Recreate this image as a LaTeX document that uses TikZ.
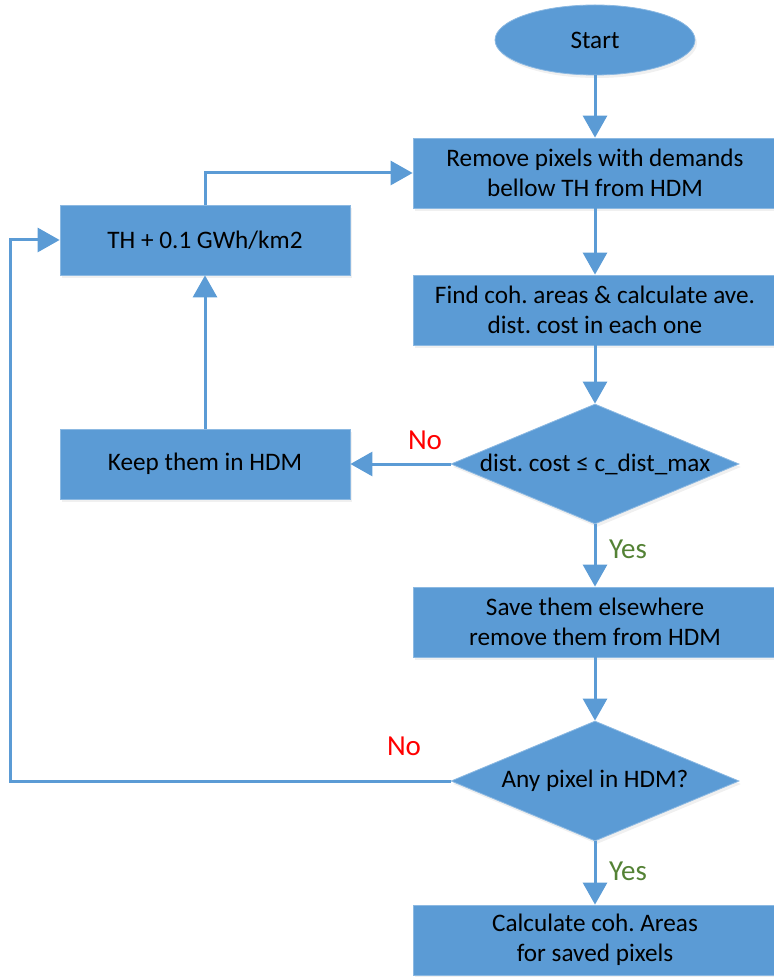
\documentclass[tikz,border=0pt]{standalone}
\usepackage{fontspec}
\setmainfont{Carlito}
\usetikzlibrary{arrows.meta,shapes.geometric,shadows}
\definecolor{boxblue}{HTML}{5B9BD5}
\definecolor{noRed}{HTML}{FF0000}
\definecolor{yesGreen}{HTML}{548235}
\frenchspacing
\begin{document}
\begin{tikzpicture}[x=0.5pt,y=-0.5pt,
  every node/.style={font=\fontsize{12.6}{15}\selectfont},
  boxshadow/.style={drop shadow={opacity=0.12,shadow xshift=1pt,shadow yshift=-1.5pt}},
  stepbox/.style={rectangle,fill=boxblue,draw=boxblue!70!white,line width=0.4pt,
    minimum width=182pt,minimum height=35pt,align=center,boxshadow},
  sidebox/.style={stepbox,minimum width=145pt},
  decision/.style={diamond,fill=boxblue,draw=boxblue!70!white,line width=0.4pt,
    aspect=2.4,minimum width=144pt,minimum height=60pt,inner sep=0pt,boxshadow},
  terminal/.style={ellipse,fill=boxblue,draw=boxblue!70!white,line width=0.4pt,
    minimum width=100pt,minimum height=35pt,boxshadow},
  flow/.style={draw=boxblue,line width=1.5pt,-{Triangle[width=12pt,length=11pt]}},
  answer/.style={font=\fontsize{14.5}{16}\selectfont}]
  \useasboundingbox (0,0) rectangle (773,977);
  % main column
  \node[terminal] (start) at (595,40) {Start};
  \node[stepbox] (remove) at (595,173) {Remove pixels with demands\\bellow TH from HDM};
  \node[stepbox] (find) at (595,310) {Find coh. areas \& calculate ave.\\dist. cost in each one};
  \node[decision] (check) at (595,464) {dist. cost ≤ c\_dist\_max};
  \node[stepbox] (save) at (595,622) {Save them elsewhere\\remove them from HDM};
  \node[decision] (any) at (595,781) {Any pixel in HDM?};
  \node[stepbox] (calc) at (595,940) {Calculate coh. Areas\\for saved pixels};
  % side column
  \node[sidebox] (th) at (205,240) {TH + 0.1 GWh/km2};
  \node[sidebox] (keep) at (205,464) {Keep them in HDM};
  \coordinate (loop) at (10,781);
  % answers
  \node[answer,text=noRed] (no1) at (425,440) {No};
  \node[answer,text=yesGreen] (yes1) at (628,549) {Yes};
  \node[answer,text=noRed] (no2) at (404,746) {No};
  \node[answer,text=yesGreen] (yes2) at (628,871) {Yes};
  % connectors
  \draw[flow] (start) -- (remove);
  \draw[flow] (remove) -- (find);
  \draw[flow] (find) -- (check);
  \draw[flow] (check) -- (save);
  \draw[flow] (save) -- (any);
  \draw[flow] (any) -- (calc);
  \draw[flow] (check) -- (keep);
  \draw[flow] (keep) -- (th);
  \draw[flow] (th.north) |- (remove.west);
  \draw[flow] (any.west) -- (loop) |- (th.west);
\end{tikzpicture}
\end{document}
